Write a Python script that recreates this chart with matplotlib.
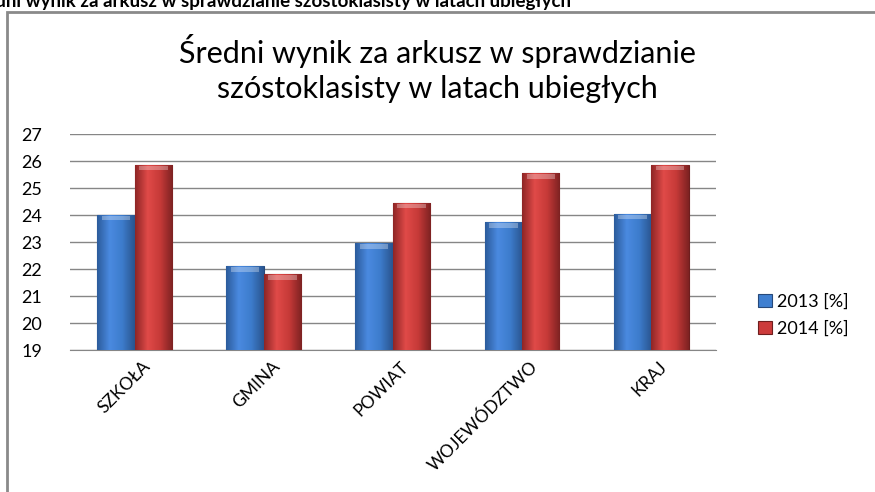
import matplotlib.pyplot as plt
import numpy as np
from matplotlib.patches import Rectangle
from matplotlib.colors import LinearSegmentedColormap

categories = ["SZKOŁA", "GMINA", "POWIAT", "WOJEWÓDZTWO", "KRAJ"]
y2013 = [24.0, 22.1, 22.95, 23.73, 24.05]
y2014 = [25.85, 21.8, 24.45, 25.55, 25.85]
series = ["2013 [%]", "2014 [%]"]

plt.rcParams['font.family'] = ['Lato', 'DejaVu Sans']

fig = plt.figure(figsize=(8.75, 4.92), dpi=100)
ax = fig.add_axes([0.08, 0.2886, 0.738, 0.439])

x = np.arange(len(categories))
w = 0.29
blue_cmap = LinearSegmentedColormap.from_list("b", ["#2c5c9c", "#4a8ae0", "#3d7ccc", "#2a558f"])
red_cmap = LinearSegmentedColormap.from_list("r", ["#8f2626", "#e04a48", "#c63a38", "#7e2222"])

b1 = ax.bar(x - w / 2, y2013, w, bottom=0, color="#3f7fd0", edgecolor="#27497a",
            linewidth=0.8, label=series[0], zorder=3)
b2 = ax.bar(x + w / 2, y2014, w, bottom=0, color="#cc3b3b", edgecolor="#6e1e1e",
            linewidth=0.8, label=series[1], zorder=3)

# gradient fill inside each bar
grad = np.linspace(0, 1, 64).reshape(1, -1)
for bars, cmap in ((b1, blue_cmap), (b2, red_cmap)):
    for p in bars:
        x0, x1 = p.get_x(), p.get_x() + p.get_width()
        h = p.get_height()
        im = ax.imshow(grad, cmap=cmap, aspect="auto", extent=(x0, x1, 19, h),
                       zorder=3.5)
        im.set_clip_path(p)
        # light bevel at the top
        ax.add_patch(Rectangle((x0 + p.get_width() * 0.12, h - 0.2), p.get_width() * 0.76, 0.16,
                               facecolor="white", alpha=0.3, edgecolor="none", zorder=4))

ax.set_ylim(19, 27)
ax.set_xlim(-0.5, 4.5)
ax.set_yticks(range(19, 28))
ax.yaxis.grid(True, color="#868686", linewidth=1)
ax.set_axisbelow(True)
for s in ("top", "right", "left"):
    ax.spines[s].set_visible(False)
ax.spines["bottom"].set_color("#868686")
ax.tick_params(axis="both", length=0, labelsize=13)
ax.tick_params(axis="y", pad=20)
ax.tick_params(axis="x", pad=6)
ax.set_xticks(x + 0.06)
ax.set_xticklabels(categories, rotation=45, ha="right", va="top",
                   rotation_mode="anchor", fontsize=12.5)

leg = fig.legend(handles=[b1, b2], labels=series, loc="center left",
                 bbox_to_anchor=(0.848, 0.36), frameon=False, fontsize=13,
                 handlelength=0.75, handleheight=0.75, handletextpad=0.3,
                 labelspacing=0.6)

fig.text(0.5, 0.86, "Średni wynik za arkusz w sprawdzianie\nszóstoklasisty w latach ubiegłych",
         ha="center", va="center", fontsize=22, linespacing=1.3)

# cut-off heading above the chart
fig.text(0.652, 1.0, "Średni wynik za arkusz w sprawdzianie szóstoklasisty w latach ubiegłych",
         ha="right", va="center", fontsize=13.5, fontweight="bold")

fig.patches.append(Rectangle((7 / 875, -0.1), 1.0, 1.1 - 12 / 492,
                             transform=fig.transFigure, fill=False,
                             edgecolor="#8a8a8a", linewidth=2))

fig.savefig("out.png", dpi=100)
